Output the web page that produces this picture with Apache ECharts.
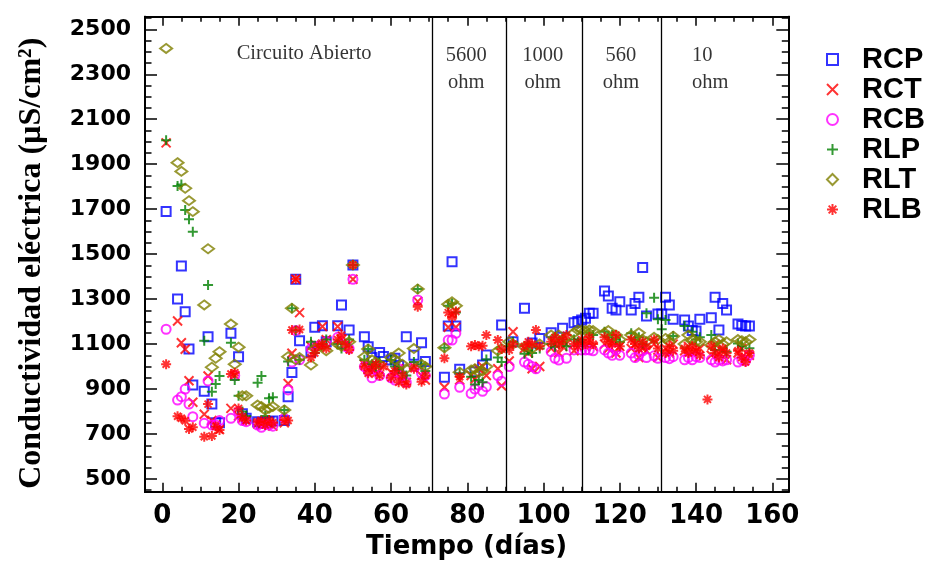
<!DOCTYPE html>
<html>
<head>
<meta charset="utf-8">
<script src="https://cdn.jsdelivr.net/npm/echarts@6/dist/echarts.min.js"></script>
<style>
  html, body { margin: 0; padding: 0; background: #fff; }
  #chart { width: 931px; height: 561px; }
</style>
</head>
<body>
<div id="chart"></div>
<script>
// Conductividad eléctrica de cada reactor a lo largo del tiempo: [día, µS/cm²]
const rcp = [[1,1690],[4,1300],[5,1447],[6,1244],[7,1078],[8,918],[11,890],[12,1133],[13,833],[14,750],[15,750],[18,1148],[20,1044],[21,790],[22,770],[25,755],[26,748],[27,752],[28,755],[29,758],[32,760],[33,866],[34,974],[35,1388],[36,1115],[39,1066],[40,1175],[42,1182],[43,1110],[46,1182],[47,1274],[49,1163],[50,1452],[53,1133],[54,1088],[55,1040],[57,1063],[58,1045],[60,1029],[61,1037],[62,1005],[64,1133],[66,1050],[68,1106],[69,1022],[74,952],[75,1180],[76,1466],[77,1180],[78,988],[82,977],[84,1007],[85,1051],[89,1185],[92,1110],[95,1259],[97,1105],[99,1125],[102,1150],[105,1170],[108,1195],[109,1200],[110,1207],[111,1215],[112,1237],[113,1237],[116,1336],[117,1314],[118,1259],[119,1252],[120,1288],[123,1252],[124,1281],[125,1308],[126,1441],[127,1225],[130,1234],[131,1234],[132,1308],[133,1274],[134,1210],[137,1207],[138,1180],[139,1160],[140,1158],[141,1210],[144,1217],[145,1308],[146,1163],[147,1281],[148,1252],[151,1189],[152,1183],[153,1180],[154,1180]];
const rct = [[1,1995],[4,1203],[5,1106],[6,1077],[7,937],[8,841],[11,788],[12,958],[13,760],[14,740],[15,720],[18,814],[19,960],[20,780],[21,770],[22,760],[25,745],[26,740],[27,750],[28,745],[29,735],[32,750],[33,925],[34,1059],[35,1388],[36,1240],[39,1090],[40,1100],[42,1178],[43,1120],[46,1178],[47,1120],[49,1100],[50,1388],[53,1010],[54,990],[55,1000],[56,970],[57,985],[60,975],[61,960],[62,990],[63,940],[64,930],[66,1000],[67,1290],[68,960],[69,940],[74,908],[75,1175],[76,1230],[77,1175],[78,940],[81,960],[82,945],[83,990],[84,1000],[85,960],[88,990],[89,915],[91,1025],[92,1155],[95,1080],[96,1060],[97,990],[99,1000],[102,1080],[103,1100],[104,1060],[105,1090],[106,1100],[108,1070],[109,1110],[110,1100],[111,1090],[112,1120],[113,1090],[116,1100],[117,1080],[118,1110],[119,1060],[120,1090],[123,1080],[124,1100],[125,1040],[126,1080],[127,1070],[129,1100],[130,1040],[132,1080],[133,1060],[134,1100],[137,1070],[138,1090],[139,1060],[140,1070],[141,1080],[144,1050],[145,1100],[146,1060],[147,1070],[148,1030],[151,1060],[152,1080],[153,1040],[154,1050]];
const rcb = [[1,1166],[4,851],[5,866],[6,900],[7,833],[8,777],[11,748],[12,936],[13,740],[14,740],[15,760],[18,770],[19,960],[20,800],[21,760],[22,755],[25,740],[26,730],[27,745],[28,740],[29,735],[32,770],[33,896],[34,1020],[35,1160],[36,1030],[39,1080],[40,1090],[42,1100],[43,1110],[46,1130],[47,1100],[48,1090],[49,1080],[50,1388],[53,1000],[54,980],[55,950],[56,990],[57,960],[60,950],[61,940],[62,990],[63,960],[64,930],[66,1000],[67,1296],[68,970],[69,960],[74,878],[75,1118],[76,1118],[77,1148],[78,908],[81,880],[82,900],[83,918],[84,890],[85,910],[88,960],[89,935],[91,1000],[95,1020],[96,1010],[97,1000],[98,990],[102,1066],[103,1037],[104,1029],[106,1037],[108,1074],[110,1074],[111,1074],[112,1074],[113,1070],[116,1074],[117,1060],[118,1050],[119,1074],[120,1050],[123,1060],[124,1040],[125,1050],[126,1070],[127,1040],[129,1048],[130,1037],[132,1040],[133,1035],[134,1044],[137,1030],[138,1040],[139,1030],[140,1044],[141,1040],[144,1030],[145,1020],[146,1030],[147,1025],[148,1030],[151,1020],[152,1030],[153,1025],[154,1050]];
const rlp = [[1,2007],[4,1803],[5,1810],[6,1696],[7,1655],[8,1600],[11,1115],[12,1363],[13,888],[14,922],[15,958],[18,1106],[19,940],[20,870],[21,800],[22,780],[25,928],[26,958],[27,780],[28,859],[29,863],[32,807],[33,1022],[34,1259],[35,1160],[36,1030],[39,1110],[40,1060],[42,1100],[43,1120],[46,1100],[47,1080],[49,1120],[50,1452],[53,1030],[54,1078],[55,1010],[56,1000],[57,1020],[60,1029],[61,1000],[62,990],[63,970],[64,960],[66,1020],[67,1345],[68,1010],[69,980],[74,1084],[75,1270],[76,1280],[77,1240],[78,970],[81,955],[82,920],[83,940],[84,930],[85,1031],[88,1040],[89,1020],[91,1090],[92,1110],[95,1057],[96,1070],[97,1060],[99,1080],[102,1100],[103,1088],[104,1110],[105,1120],[106,1090],[108,1120],[109,1110],[110,1120],[112,1150],[113,1140],[116,1155],[117,1130],[118,1140],[119,1120],[120,1110],[123,1148],[124,1120],[125,1130],[126,1100],[127,1237],[129,1306],[130,1210],[131,1166],[132,1207],[134,1136],[137,1180],[139,1155],[140,1120],[141,1130],[144,1140],[145,1074],[148,1066],[151,1103],[152,1090],[154,1081]];
const rlt = [[1,2415],[4,1907],[5,1868],[6,1793],[7,1738],[8,1689],[11,1274],[12,1524],[13,997],[14,1037],[15,1066],[18,1189],[19,1010],[20,1086],[21,870],[22,870],[25,829],[26,822],[27,807],[28,814],[29,822],[32,807],[33,1044],[34,1259],[35,1030],[36,1040],[39,1007],[40,1080],[42,1090],[43,1070],[46,1100],[47,1090],[49,1110],[50,1452],[53,1044],[54,1078],[55,1030],[56,1020],[57,1010],[60,1040],[61,1030],[62,1060],[63,1010],[64,990],[66,1080],[67,1345],[68,1010],[69,1000],[74,1084],[75,1277],[76,1288],[77,1270],[78,975],[81,985],[82,990],[83,975],[84,980],[85,1000],[88,1070],[89,1080],[91,1110],[92,1100],[95,1088],[96,1090],[97,1080],[99,1100],[102,1140],[103,1130],[104,1140],[105,1120],[106,1130],[108,1150],[109,1163],[110,1163],[111,1160],[112,1163],[113,1160],[116,1150],[117,1160],[118,1130],[119,1140],[120,1120],[123,1140],[124,1130],[125,1150],[126,1120],[127,1110],[129,1130],[130,1120],[132,1125],[133,1110],[134,1135],[137,1100],[138,1140],[139,1120],[140,1110],[141,1110],[144,1095],[145,1110],[146,1120],[147,1100],[148,1110],[151,1120],[152,1115],[153,1110],[154,1120]];
const rlb = [[1,1010],[4,779],[5,770],[6,759],[7,722],[8,730],[11,688],[12,833],[13,691],[14,733],[15,718],[18,967],[19,973],[20,814],[21,777],[22,760],[25,755],[26,759],[27,740],[28,762],[29,750],[32,762],[33,760],[34,1163],[35,1390],[36,1165],[39,1040],[40,1060],[41,1090],[42,1100],[43,1080],[46,1120],[47,1140],[48,1100],[49,1074],[50,1452],[53,1000],[54,970],[55,990],[56,1010],[57,960],[58,1000],[60,950],[61,980],[62,930],[63,960],[64,920],[66,990],[67,1266],[68,933],[69,960],[74,1037],[75,1240],[76,1220],[77,1245],[78,955],[81,1090],[82,1096],[83,1090],[84,1093],[85,1140],[88,1118],[89,1078],[91,1074],[92,1100],[95,1090],[96,1110],[97,1100],[98,1163],[99,1090],[102,1110],[103,1130],[104,1100],[105,1120],[106,1140],[108,1100],[109,1090],[110,1120],[111,1100],[112,1130],[113,1100],[116,1130],[117,1110],[118,1100],[119,1140],[120,1090],[123,1120],[124,1100],[125,1080],[126,1110],[127,1090],[129,1120],[130,1080],[132,1060],[133,1090],[134,1070],[137,1080],[138,1060],[139,1090],[140,1070],[141,1050],[143,854],[144,1090],[145,1060],[146,1040],[147,1080],[148,1060],[151,1070],[152,1040],[153,1020],[154,1060]];

// Tick values
const xTicks = [0, 20, 40, 60, 80, 100, 120, 140, 160];
const yTicks = [500, 700, 900, 1100, 1300, 1500, 1700, 1900, 2100, 2300, 2500];

// Day on which each load resistance was connected
const phaseStarts = [70.8, 90.3, 110.2, 131];
const phaseNames = ['Circuito Abierto', '5600', 'ohm', '1000', 'ohm', '560', 'ohm', '10', 'ohm'];

// ---- layout / styling ----
const X_MIN = -4.54, X_MAX = 164.2, Y_MIN = 443.5, Y_MAX = 2556;
const notePos = [[37.2, 2394], [79.7, 2385], [79.7, 2265], [99.8, 2385], [99.8, 2265],
                 [120.3, 2385], [120.3, 2265], [141.6, 2385], [143.7, 2265]];

const range = (a, b, s) => { const r = []; for (let v = a; v <= b; v += s) r.push(v); return r; };
const xMinor = range(0, 160, 5);
const yMinor = range(450, 2550, 50);

const SYM_X = 'path://M0,0L10,10M10,0L0,10';
const SYM_PLUS = 'path://M5,0L5,10M0,5L10,5';
const SYM_STAR = 'path://M5,0L5,10M0,5L10,5M1.5,1.5L8.5,8.5M8.5,1.5L1.5,8.5';

const black = '#000';
const tickFont = { color: black, fontFamily: 'DejaVu Sans', fontWeight: 'bold', formatter: v => String(v) };

function xAxisDef(pos, ticks, len, withLabels) {
  return {
    type: 'value', position: pos, min: X_MIN, max: X_MAX,
    axisLine: { show: true, onZero: false, lineStyle: { color: black, width: 2 } },
    axisTick: { show: true, inside: true, length: len, customValues: ticks, lineStyle: { color: black, width: 1.5 } },
    axisLabel: withLabels ? Object.assign({ show: true, customValues: xTicks, fontSize: 26, margin: 12 }, tickFont) : { show: false },
    splitLine: { show: false }
  };
}
function yAxisDef(pos, ticks, len, withLabels) {
  return {
    type: 'value', position: pos, min: Y_MIN, max: Y_MAX,
    axisLine: { show: true, onZero: false, lineStyle: { color: black, width: 2 } },
    axisTick: { show: true, inside: true, length: len, customValues: ticks, lineStyle: { color: black, width: 1.5 } },
    axisLabel: withLabels ? Object.assign({ show: true, customValues: yTicks, fontSize: 22, margin: 14 }, tickFont) : { show: false },
    splitLine: { show: false }
  };
}

const xAxes = [
  xAxisDef('bottom', xTicks, 9, true),
  xAxisDef('bottom', xMinor, 5, false),
  xAxisDef('top', xTicks, 9, false),
  xAxisDef('top', xMinor, 5, false)
];
Object.assign(xAxes[0], {
  name: 'Tiempo (días)', nameLocation: 'middle', nameGap: 42,
  nameTextStyle: { color: black, fontFamily: 'DejaVu Sans', fontWeight: 'bold', fontSize: 26 }
});
const yAxes = [
  yAxisDef('left', yTicks, 12, true),
  yAxisDef('left', yMinor, 6.5, false),
  yAxisDef('right', yTicks, 12, false),
  yAxisDef('right', yMinor, 6.5, false)
];
Object.assign(yAxes[0], {
  name: 'Conductividad eléctrica (µS/cm²)', nameLocation: 'middle', nameGap: 97,
  nameTextStyle: { color: black, fontFamily: 'Liberation Serif', fontWeight: 'bold', fontSize: 32, padding: [0, 18, 0, 0] }
});

const seriesStyle = [
  { name: 'RCP', data: rcp, symbol: 'rect', size: 9, color: '#0000ff' },
  { name: 'RCT', data: rct, symbol: SYM_X, size: 9, color: '#ff0000' },
  { name: 'RCB', data: rcb, symbol: 'circle', size: 9, color: '#ff00ff' },
  { name: 'RLP', data: rlp, symbol: SYM_PLUS, size: 10, color: '#008000' },
  { name: 'RLT', data: rlt, symbol: 'diamond', size: [12, 9], color: '#808000' },
  { name: 'RLB', data: rlb, symbol: SYM_STAR, size: 10, color: '#ff0000' }
];

const series = seriesStyle.map(s => ({
  type: 'scatter', name: s.name, data: s.data,
  symbol: s.symbol, symbolSize: s.size,
  itemStyle: { color: 'rgba(0,0,0,0)', borderColor: s.color, borderWidth: 2 },
  emphasis: { disabled: true }
}));

// Vertical separators between the load phases
series[0].markLine = {
  silent: true, symbol: ['none', 'none'], label: { show: false },
  lineStyle: { color: black, width: 1.3, type: 'solid' },
  data: phaseStarts.map(d => ({ xAxis: d }))
};

// Phase captions
series.push({
  type: 'scatter', name: 'fases', silent: true, symbolSize: 0,
  itemStyle: { color: 'rgba(0,0,0,0)' },
  label: { show: true, position: 'inside', color: black, fontFamily: 'Liberation Serif', fontSize: 20.5, formatter: p => p.name },
  data: phaseNames.map((t, i) => ({ name: t, value: notePos[i] }))
});

const chart = echarts.init(document.getElementById('chart'), null, { renderer: 'canvas' });
chart.setOption({
  animation: false,
  backgroundColor: '#fff',
  grid: { left: 145, top: 16.7, width: 643.3, height: 475, containLabel: false, outerBoundsMode: 'none' },
  xAxis: xAxes,
  yAxis: yAxes,
  legend: {
    orient: 'vertical', left: 821, top: 40, selectedMode: false,
    itemWidth: 11, itemHeight: 11, itemGap: 1,
    formatter: n => '{g|}' + n,
    textStyle: { color: black, fontFamily: 'Liberation Sans', fontWeight: 'bold', fontSize: 29,
                 rich: { g: { width: 19 } } },
    data: seriesStyle.map(s => ({
      name: s.name, icon: s.symbol,
      itemStyle: { color: 'rgba(0,0,0,0)', borderColor: s.color, borderWidth: 2 }
    }))
  },
  series: series
});
</script>
</body>
</html>
